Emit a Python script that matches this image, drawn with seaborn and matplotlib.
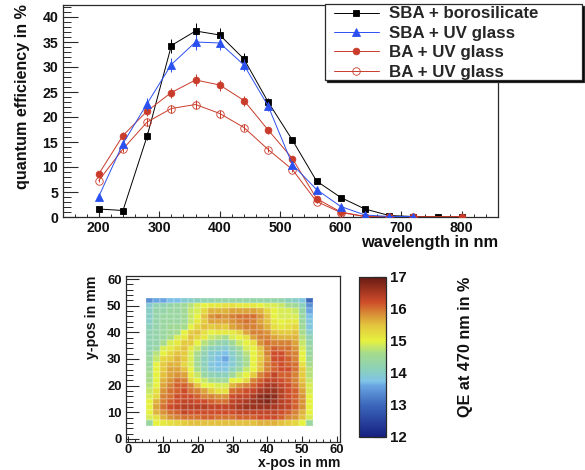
import matplotlib
matplotlib.use("Agg")
import matplotlib.pyplot as plt
import seaborn as sns
import numpy as np
from matplotlib.colors import LinearSegmentedColormap
from matplotlib.patches import Rectangle
from matplotlib.ticker import MultipleLocator, FixedLocator

# QE vs wavelength
wavelength = [200, 240, 280, 320, 360, 400, 440, 480, 520, 560, 600, 640, 680, 720, 760, 800]
wavelength_ba = [200, 240, 280, 320, 360, 400, 440, 480, 520, 560, 600, 640, 680, 720, 800]
sba_boro = [1.6, 1.3, 16.2, 34.3, 37.2, 36.4, 31.6, 23.0, 15.4, 7.2, 3.9, 1.6, 0.3, 0.1, 0.05, 0.05]
sba_uv = [4.1, 14.7, 22.7, 30.5, 35.0, 34.8, 30.4, 22.2, 10.5, 5.5, 2.1, 0.4, 0.1, 0.1]
ba_uv = [8.6, 16.3, 21.2, 24.9, 27.4, 26.4, 23.3, 17.4, 11.7, 3.7, 1.0, 0.1, 0.05, 0.05, 0.1]
ba_uv_open = [7.3, 13.6, 19.0, 21.7, 22.5, 20.7, 17.9, 13.5, 9.5, 3.1, 0.9, 0.1, 0.05, 0.05]

err_boro = [0.1, 0.1, 0.8, 1.4, 1.5, 1.4, 1.2, 0.9, 0.6, 0.3, 0.2, 0.1, 0, 0, 0, 0]
err_sba = [0.2, 0.7, 1.2, 1.4, 1.5, 1.4, 1.2, 0.9, 0.5, 0.3, 0.1, 0, 0, 0]
err_ba = [0.4, 0.7, 0.9, 1.0, 1.2, 1.1, 1.0, 0.7, 0.5, 0.2, 0.1, 0, 0, 0, 0]
err_open = [0.3, 0.5, 0.8, 0.8, 0.9, 0.8, 0.7, 0.5, 0.4, 0.2, 0.1, 0, 0, 0]

# QE map at 470 nm, top row is y = 53 mm, 2 mm cells
qe_map = [
    [13.4, 13.6, 13.6, 13.7, 13.7, 13.9, 14.0, 14.1, 14.2, 14.2, 14.3, 14.3, 14.3, 14.3, 14.3, 14.3, 14.3, 14.3, 14.3, 14.3, 14.1, 14.0, 13.8, 13.0],
    [13.9, 14.2, 14.2, 14.3, 14.4, 14.5, 14.7, 14.9, 15.0, 15.1, 15.1, 15.2, 15.2, 15.1, 15.1, 15.1, 15.0, 14.9, 14.9, 14.8, 14.6, 14.5, 14.1, 13.4],
    [14.0, 14.3, 14.3, 14.4, 14.4, 14.5, 14.8, 14.9, 15.3, 15.6, 15.6, 15.6, 15.7, 15.7, 15.7, 15.7, 15.6, 15.3, 15.0, 14.9, 14.9, 14.8, 14.3, 13.6],
    [14.0, 14.3, 14.4, 14.4, 14.4, 14.5, 14.8, 15.0, 15.5, 15.8, 15.9, 15.8, 15.9, 16.0, 16.0, 16.0, 15.8, 15.5, 15.0, 14.9, 14.9, 14.9, 14.4, 13.7],
    [14.0, 14.3, 14.4, 14.4, 14.4, 14.5, 14.8, 15.1, 15.4, 15.7, 15.7, 15.7, 15.8, 15.9, 16.0, 15.9, 15.7, 15.5, 15.1, 15.0, 15.1, 15.1, 14.4, 13.8],
    [14.1, 14.3, 14.4, 14.5, 14.5, 14.6, 15.0, 15.3, 15.5, 15.4, 15.5, 15.4, 15.7, 15.8, 15.9, 15.9, 15.8, 15.6, 15.2, 15.1, 15.2, 15.3, 14.5, 13.8],
    [14.2, 14.3, 14.4, 14.5, 14.6, 15.0, 15.4, 15.5, 15.2, 15.0, 15.1, 15.1, 15.1, 15.3, 15.7, 15.9, 15.9, 15.8, 15.5, 15.4, 15.4, 15.5, 14.6, 14.0],
    [14.2, 14.3, 14.4, 14.6, 14.9, 15.1, 15.5, 15.3, 15.1, 14.8, 14.7, 14.6, 14.9, 15.0, 15.2, 15.7, 15.9, 15.9, 15.7, 15.6, 15.6, 15.6, 14.7, 14.2],
    [14.2, 14.3, 14.6, 14.9, 15.1, 15.4, 15.4, 15.0, 14.7, 14.5, 14.3, 14.2, 14.5, 14.8, 15.0, 15.2, 15.8, 16.0, 15.9, 15.9, 15.9, 15.7, 14.8, 14.3],
    [14.2, 14.4, 14.9, 15.1, 15.3, 15.5, 15.1, 14.8, 14.4, 14.1, 14.0, 13.9, 14.2, 14.5, 14.9, 15.0, 15.5, 15.9, 16.1, 16.0, 16.0, 15.8, 14.9, 14.4],
    [14.3, 14.7, 15.0, 15.3, 15.5, 15.4, 14.9, 14.6, 14.2, 13.9, 13.8, 13.7, 14.0, 14.3, 14.7, 15.0, 15.4, 15.9, 16.2, 16.2, 16.0, 15.9, 15.0, 14.4],
    [14.4, 14.8, 15.3, 15.4, 15.6, 15.4, 14.9, 14.5, 14.1, 13.9, 13.7, 13.6, 13.9, 14.2, 14.6, 15.0, 15.4, 15.8, 16.2, 16.2, 16.1, 15.9, 15.0, 14.5],
    [14.4, 15.0, 15.4, 15.6, 15.6, 15.3, 14.9, 14.5, 14.1, 13.8, 13.7, 13.7, 13.9, 14.2, 14.6, 15.0, 15.5, 15.9, 16.1, 16.2, 16.1, 16.0, 15.2, 14.6],
    [14.5, 15.0, 15.4, 15.7, 15.7, 15.5, 15.0, 14.6, 14.2, 13.9, 13.8, 13.8, 14.1, 14.4, 14.8, 15.0, 15.5, 15.9, 16.1, 16.2, 16.2, 16.0, 15.4, 14.7],
    [14.6, 15.0, 15.5, 15.7, 15.8, 15.7, 15.1, 14.8, 14.4, 14.2, 14.1, 14.1, 14.5, 14.8, 15.0, 15.4, 15.9, 16.1, 16.3, 16.1, 16.1, 15.9, 15.4, 14.7],
    [14.6, 15.0, 15.6, 15.8, 16.0, 15.9, 15.3, 15.0, 14.8, 14.6, 14.5, 14.5, 15.0, 15.0, 15.3, 15.9, 16.1, 16.3, 16.3, 16.2, 16.1, 15.9, 15.5, 14.8],
    [14.7, 15.0, 15.7, 15.9, 16.1, 16.1, 15.9, 15.5, 15.0, 15.0, 14.9, 14.9, 15.6, 15.8, 15.9, 16.1, 16.3, 16.5, 16.5, 16.3, 16.2, 16.0, 15.6, 14.9],
    [14.8, 15.2, 15.8, 16.0, 16.1, 16.2, 16.0, 15.9, 15.7, 15.4, 15.2, 15.2, 16.0, 16.1, 16.2, 16.3, 16.5, 16.6, 16.6, 16.4, 16.2, 16.1, 15.7, 14.9],
    [14.9, 15.3, 15.9, 16.0, 16.2, 16.2, 16.2, 16.1, 15.9, 15.9, 15.8, 15.8, 16.2, 16.3, 16.3, 16.5, 16.7, 16.8, 16.7, 16.4, 16.2, 16.1, 15.8, 15.0],
    [15.0, 15.6, 15.9, 16.1, 16.2, 16.3, 16.3, 16.2, 16.2, 16.1, 16.0, 16.0, 16.3, 16.4, 16.5, 16.6, 16.7, 16.8, 16.6, 16.4, 16.3, 16.1, 15.8, 15.0],
    [15.0, 15.7, 16.0, 16.2, 16.3, 16.4, 16.4, 16.4, 16.4, 16.3, 16.3, 16.3, 16.4, 16.5, 16.6, 16.6, 16.6, 16.6, 16.5, 16.4, 16.3, 16.1, 15.8, 15.0],
    [15.0, 15.6, 15.8, 16.0, 16.1, 16.3, 16.2, 16.2, 16.2, 16.2, 16.2, 16.2, 16.2, 16.3, 16.3, 16.3, 16.3, 16.3, 16.3, 16.2, 16.1, 15.9, 15.6, 15.0],
    [14.9, 15.2, 15.6, 15.8, 15.9, 16.0, 16.0, 16.0, 16.1, 16.1, 16.0, 16.0, 16.0, 16.1, 16.1, 16.1, 16.2, 16.2, 16.2, 16.1, 15.9, 15.8, 15.5, 14.9],
    [14.4, 15.0, 15.1, 15.2, 15.3, 15.4, 15.5, 15.5, 15.5, 15.5, 15.5, 15.5, 15.5, 15.5, 15.5, 15.5, 15.6, 15.6, 15.6, 15.5, 15.4, 15.3, 15.0, 14.4],
]

BLACK = "#000000"
BLUE = "#2b50f0"
RED = "#c93b2a"
INK = "#2a2a2a"

sns.set_theme(style="white")
plt.rcParams["font.family"] = ["Liberation Sans", "DejaVu Sans"]
plt.rcParams["font.weight"] = "bold"
plt.rcParams["axes.labelweight"] = "bold"

W, H = 585, 470
fig = plt.figure(figsize=(W / 100, H / 100), dpi=100)


def px_axes(left, top, right, bottom):
    return fig.add_axes([left / W, 1 - bottom / H, (right - left) / W, (bottom - top) / H])


def frame(ax):
    for s in ax.spines.values():
        s.set_visible(True)
        s.set_color(INK)
        s.set_linewidth(0.9)


# top panel
ax = px_axes(62.5, 4.5, 498, 217)
series = [
    ("SBA + borosilicate", wavelength, sba_boro, err_boro, BLACK, "s", 4.6, BLACK, 2),
    ("SBA + UV glass", wavelength, sba_uv, err_sba, BLUE, "^", 6.2, BLUE, 5),
    ("BA + UV glass", wavelength_ba, ba_uv, err_ba, RED, "o", 4.8, RED, 3),
    ("BA + UV glass", wavelength, ba_uv_open, err_open, RED, "o", 5.4, "none", 4),
]
for name, x_vals, vals, errs, col, mk, ms, face, z in series:
    xs = x_vals[:len(vals)]
    ax.errorbar(xs, vals, yerr=errs, fmt="none", ecolor=col, elinewidth=0.7, zorder=z)
    sns.lineplot(x=xs, y=vals, ax=ax, color=col, lw=0.7, marker=mk, markersize=ms,
                 markerfacecolor=face, markeredgecolor=col, markeredgewidth=0.6,
                 label=name, zorder=z, errorbar=None)

ax.set_xlim(140, 860)
ax.set_ylim(0, 42.5)
ax.xaxis.set_major_locator(MultipleLocator(100))
ax.xaxis.set_minor_locator(MultipleLocator(20))
ax.yaxis.set_major_locator(MultipleLocator(5))
ax.yaxis.set_minor_locator(MultipleLocator(1))
ax.tick_params(axis="x", which="major", direction="in", length=4, width=0.8, color=INK, labelsize=10.2, pad=3, labelcolor="#111111", bottom=True)
ax.tick_params(axis="x", which="minor", direction="in", length=2, width=0.7, color=INK, bottom=True)
ax.tick_params(axis="y", which="major", direction="in", length=11, width=0.8, color=INK, labelsize=10.2, pad=3, labelcolor="#111111", left=True)
ax.tick_params(axis="y", which="minor", direction="in", length=5.5, width=0.7, color=INK, left=True)
frame(ax)
ax.set_xlabel("wavelength in nm", loc="right", fontsize=11.8, labelpad=0, color="#111111")
ax.set_ylabel("quantum efficiency in %", loc="top", fontsize=11.6, labelpad=9, color="#111111")

# legend box with a hard shadow, entries in a frameless legend on top
for dx, dy, fc in [(2, 2, "black"), (0, 0, "white")]:
    ax.add_patch(Rectangle(((324.5 + dx) / W, 1 - (80 + dy) / H), 257 / W, 76 / H, transform=fig.transFigure,
                           facecolor=fc, edgecolor=INK, linewidth=0.9, clip_on=False, zorder=9))
leg = ax.legend(loc="upper left", bbox_to_anchor=(334 / W, 1 - 6.5 / H), bbox_transform=fig.transFigure,
                fontsize=12.2, frameon=False, borderaxespad=0, borderpad=0, labelspacing=0.26,
                handlelength=2.65, handletextpad=0.6)
leg.set_zorder(10)

# bottom panel, heatmap cells indexed 0..24, ticks placed in mm
ax2 = px_axes(125.7, 275.7, 340, 441.5)
cax = px_axes(359, 276.7, 386, 436.7)
qe_cmap = LinearSegmentedColormap.from_list("qe", [
    (0.00, "#17207f"), (0.04, "#1e2f8e"), (0.20, "#3c68bc"), (0.32, "#6aa6e2"), (0.345, "#7fc3e8"),
    (0.42, "#8bd0ba"), (0.52, "#a5db8e"), (0.60, "#e6f13f"), (0.70, "#e3c33e"), (0.76, "#d99437"),
    (0.84, "#cf4e2a"), (0.90, "#aa3a22"), (1.00, "#661a14"),
])
sns.heatmap(np.array(qe_map), ax=ax2, cmap=qe_cmap, vmin=12, vmax=17, cbar_ax=cax,
            linewidths=0.05, linecolor=(1, 1, 1, 0.15), xticklabels=False, yticklabels=False)

mm_ticks = [0, 10, 20, 30, 40, 50, 60]
ax2.set_xlim((-0.8 - 5) / 2, (60.9 - 5) / 2)
ax2.set_ylim((53 + 1.0) / 2, (53 - 61.3) / 2)
ax2.xaxis.set_major_locator(FixedLocator([(m - 5) / 2 for m in mm_ticks]))
ax2.set_xticklabels([str(m) for m in mm_ticks])
ax2.xaxis.set_minor_locator(FixedLocator([(m - 5) / 2 for m in range(0, 61, 2)]))
ax2.yaxis.set_major_locator(FixedLocator([(53 - m) / 2 for m in mm_ticks]))
ax2.set_yticklabels([str(m) for m in mm_ticks], rotation=0)
ax2.yaxis.set_minor_locator(FixedLocator([(53 - m) / 2 for m in range(0, 61, 2)]))
ax2.tick_params(axis="x", which="major", direction="in", length=4, width=0.8, color=INK, labelsize=9.4, pad=2, labelcolor="#111111", bottom=True)
ax2.tick_params(axis="x", which="minor", direction="in", length=2, width=0.7, color=INK, bottom=True)
ax2.tick_params(axis="y", which="major", direction="in", length=9.5, width=0.8, color=INK, labelsize=9.4, pad=3, labelcolor="#111111", left=True)
ax2.tick_params(axis="y", which="minor", direction="in", length=5, width=0.7, color=INK, left=True)
frame(ax2)
ax2.set_xlabel("x-pos in mm", loc="right", fontsize=10.1, labelpad=0, color="#111111")
ax2.set_ylabel("y-pos in mm", loc="top", fontsize=10.2, labelpad=6, color="#111111")

cbar = ax2.collections[0].colorbar
cbar.set_ticks([12, 13, 14, 15, 16, 17])
cax.tick_params(axis="y", which="major", direction="in", length=9.5, width=0.8, color=INK, labelsize=10.8, pad=3, labelcolor="#111111", right=True, left=False)
cbar.outline.set_visible(True)
cbar.outline.set_edgecolor(INK)
cbar.outline.set_linewidth(0.9)
cax.set_ylabel("QE at 470 nm in %", loc="top", fontsize=11.6, labelpad=37, color="#111111")

fig.savefig("out.png", dpi=100)
